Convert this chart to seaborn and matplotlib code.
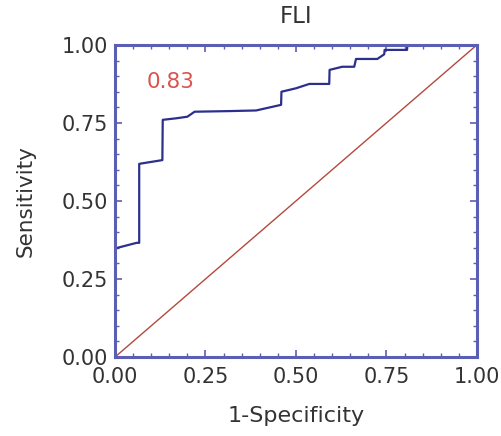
import matplotlib
matplotlib.use("Agg")
import matplotlib.pyplot as plt
from matplotlib.ticker import MultipleLocator
import numpy as np
import pandas as pd
import seaborn as sns

# ROC curve vertices (false positive rate, true positive rate)
fpr = [0.000, 0.060, 0.067, 0.067, 0.131, 0.132, 0.170, 0.200, 0.220,
       0.317, 0.390, 0.459, 0.460, 0.500, 0.537, 0.592, 0.593, 0.628,
       0.661, 0.666, 0.725, 0.744, 0.745, 0.807, 0.808, 1.000]
tpr = [0.348, 0.366, 0.366, 0.619, 0.631, 0.760, 0.765, 0.770, 0.786,
       0.788, 0.790, 0.808, 0.850, 0.861, 0.875, 0.875, 0.920, 0.930,
       0.930, 0.955, 0.955, 0.970, 0.984, 0.984, 1.000, 1.000]
auc_label = "0.83"
title = "FLI"
xlabel = "1-Specificity"
ylabel = "Sensitivity"
ticks = [0.0, 0.25, 0.5, 0.75, 1.0]

sns.set_style("white")
plt.rcParams["font.family"] = ["DejaVu Sans"]

fig = plt.figure(figsize=(5.02, 4.36), dpi=100)
ax = fig.add_axes([0.229, 0.181, 0.721, 0.716])

roc = pd.DataFrame({"fpr": fpr, "tpr": tpr})
sns.lineplot(data=roc, x="fpr", y="tpr", sort=False, estimator=None,
             color="#2c2f8c", lw=1.6, ax=ax)
ref = pd.DataFrame({"x": [0, 1], "y": [0, 1]})
sns.lineplot(data=ref, x="x", y="y", color="#b4493e", lw=1.0, ax=ax)

ax.set_xlim(0, 1)
ax.set_ylim(0, 1)
ax.set_xticks(ticks)
ax.set_yticks(ticks)
ax.set_xticklabels([f"{t:.2f}" for t in ticks])
ax.set_yticklabels([f"{t:.2f}" for t in ticks])
ax.xaxis.set_minor_locator(MultipleLocator(0.05))
ax.yaxis.set_minor_locator(MultipleLocator(0.05))

frame_color = "#5b5fb3"
text_color = "#333333"
for s in ax.spines.values():
    s.set_color(frame_color)
    s.set_linewidth(2.2)
ax.tick_params(which="both", direction="in", top=True, right=True,
               bottom=True, left=True, color=frame_color)
ax.tick_params(which="major", length=5, width=1.2, labelsize=15,
               labelcolor=text_color)
ax.tick_params(axis="x", which="major", pad=7)
ax.tick_params(axis="y", which="major", pad=5)
ax.tick_params(which="minor", length=3, width=1.0)

ax.set_xlabel(xlabel, fontsize=16, color=text_color, labelpad=14)
ax.set_ylabel(ylabel, fontsize=15.5, color=text_color, labelpad=19)
ax.set_title(title, fontsize=16.5, color=text_color, pad=15.5)

ax.text(0.088, 0.88, auc_label, color="#d9534f", fontsize=15.5,
        ha="left", va="center", transform=ax.transAxes)

fig.savefig("out.png", dpi=100)
